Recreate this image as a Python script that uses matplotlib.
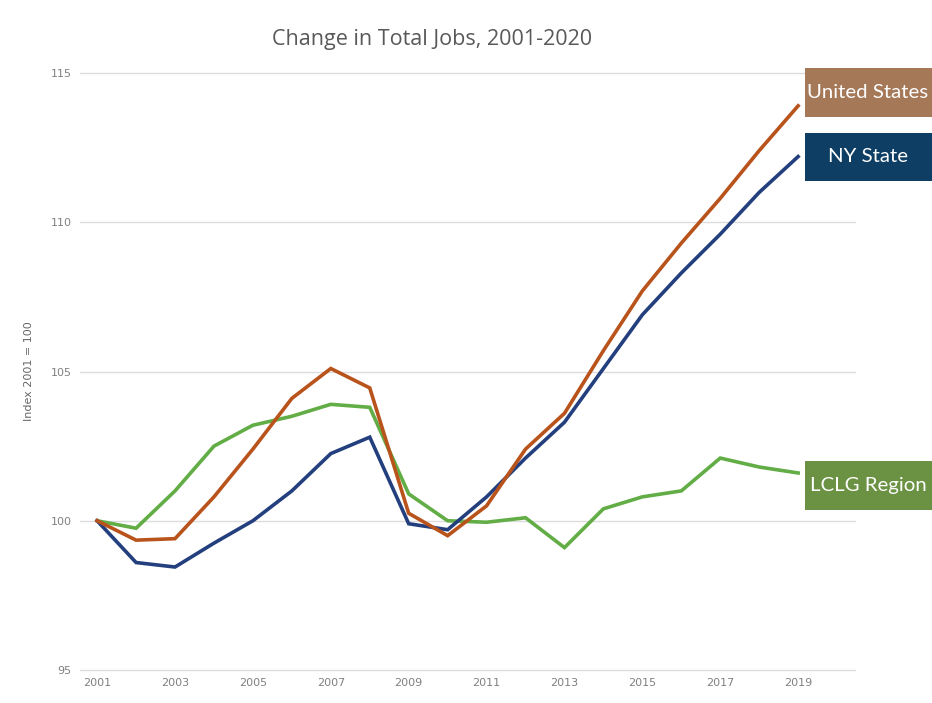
import matplotlib.pyplot as plt
from matplotlib.patches import Rectangle

years = list(range(2001, 2020))
us = [100, 99.35, 99.4, 100.8, 102.4, 104.1, 105.1, 104.45, 100.25, 99.5,
      100.5, 102.4, 103.6, 105.7, 107.7, 109.3, 110.8, 112.4, 113.9]
ny = [100, 98.6, 98.45, 99.25, 100.0, 101.0, 102.25, 102.8, 99.9, 99.7,
      100.8, 102.1, 103.3, 105.1, 106.9, 108.3, 109.6, 111.0, 112.2]
lclg = [100, 99.75, 101.0, 102.5, 103.2, 103.5, 103.9, 103.8, 100.9, 100.0,
        99.95, 100.1, 99.1, 100.4, 100.8, 101.0, 102.1, 101.8, 101.6]

yticks = [95, 100, 105, 110, 115]
xticks = list(range(2001, 2020, 2))

series_names = ['United States', 'NY State', 'LCLG Region']
line_colors = ['#b9531c', '#233f7e', '#62ad45']
box_colors = ['#a57857', '#0e3e63', '#6b9143']

W, H = 932, 703
fig = plt.figure(figsize=(W / 100, H / 100), dpi=100)
ax = fig.add_axes([80 / W, 1 - 670 / H, 775 / W, (670 - 73) / H])

for vals, c in zip([lclg, ny, us], [line_colors[2], line_colors[1], line_colors[0]]):
    ax.plot(years, vals, color=c, lw=2.6, solid_joinstyle='miter')

ax.set_xlim(2000.56, 2020.46)
ax.set_ylim(95, 115)
ax.set_yticks(yticks)
ax.set_xticks(xticks)
ax.grid(axis='y', color='#dcdcdc', lw=1)
for gl in ax.yaxis.get_gridlines():
    gl.set_clip_on(False)
ax.set_axisbelow(True)
for s in ax.spines.values():
    s.set_visible(False)
ax.tick_params(length=0, labelsize=8, colors='#808080', pad=6)
ax.set_ylabel('Index 2001 = 100', fontsize=8, color='#666666', labelpad=12)

fig.text(432 / W, 1 - 39 / H, 'Change in Total Jobs, 2001-2020', ha='center',
         va='center', fontsize=15.5, color='#595959', family='Open Sans')

# end-of-line labels
boxes = [(68, 117), (133, 181), (461, 510)]
for name, bc, (top, bot) in zip(series_names, box_colors, boxes):
    fig.patches.append(Rectangle((805 / W, 1 - bot / H), 127 / W, (bot - top) / H,
                                 transform=fig.transFigure, facecolor=bc,
                                 edgecolor='none', zorder=5))
    fig.text(868 / W, 1 - (top + bot) / 2 / H, name, ha='center', va='center',
             fontsize=14.7, color='white', family='Lato', zorder=6)

fig.savefig('out.png', dpi=100, facecolor='white')
